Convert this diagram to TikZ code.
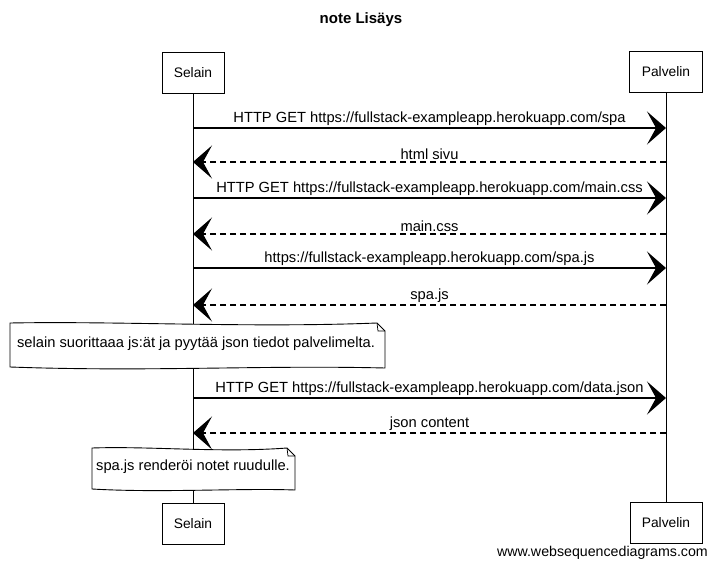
\documentclass[tikz,border=0pt]{standalone}
\usepackage{fontspec}
\setmainfont{Liberation Sans}
\usetikzlibrary{arrows.meta}
\begin{document}
\begin{tikzpicture}[x=1pt,y=-1pt,
  part/.style={draw,line width=0.9pt,minimum height=41pt,inner sep=0pt,font=\fontsize{13.8}{16}\selectfont,fill=white},
  life/.style={line width=0.8pt},
  msg/.style={line width=1.1pt,-{Stealth[length=19pt,width=33pt,inset=9pt]}},
  ret/.style={msg,dash pattern=on 6pt off 4pt},
  lbl/.style={font=\fontsize{14.7}{17}\selectfont,inner sep=2pt,above},
  notebox/.style={draw,line width=0.9pt,fill=white},
  notetext/.style={font=\fontsize{14.7}{17}\selectfont,inner sep=0pt}]
\useasboundingbox (0,0) rectangle (717,569);
\node[font=\bfseries\fontsize{15}{17}\selectfont] (title) at (361,20) {note Lisäys};
\node[part,minimum width=62pt] (s1) at (193,72.5) {Selain};
\node[part,minimum width=73pt] (p1) at (666,72) {Palvelin};
\node[part,minimum width=62pt] (s2) at (193,523.5) {Selain};
\node[part,minimum width=72pt] (p2) at (666,523) {Palvelin};
\draw[life] (s1) -- (s2);
\draw[life] (p1) -- (p2);
% lifeline coordinates
\foreach \n/\y in {1/128,2/162,3/198,4/234,5/268,6/305,7/398,8/433}{
  \coordinate (a\n) at (193,\y);
  \coordinate (b\n) at (666,\y);
}
\draw[msg] (a1) -- node[lbl] {HTTP GET https://fullstack-exampleapp.herokuapp.com/spa} (b1);
\draw[ret] (b2) -- node[lbl] {html sivu} (a2);
\draw[msg] (a3) -- node[lbl] {HTTP GET https://fullstack-exampleapp.herokuapp.com/main.css} (b3);
\draw[ret] (b4) -- node[lbl] {main.css} (a4);
\draw[msg] (a5) -- node[lbl] {https://fullstack-exampleapp.herokuapp.com/spa.js} (b5);
\draw[ret] (b6) -- node[lbl] {spa.js} (a6);
\draw[msg] (a7) -- node[lbl] {HTTP GET https://fullstack-exampleapp.herokuapp.com/data.json} (b7);
\draw[ret] (b8) -- node[lbl] {json content} (a8);
% note 1
\draw[notebox] (10,323) .. controls (120,321) and (250,328) .. (377,323) -- (385,331) -- (385,368)
  .. controls (260,365) and (150,372) .. (10,367) -- cycle;
\draw[line width=0.7pt] (377,323) -- (378,331) -- (385,331);
\node[notetext] (n1) at (196,344) {selain suorittaaa js:ät ja pyytää json tiedot palvelimelta.};
% note 2
\draw[notebox] (92,448) .. controls (150,446) and (220,453) .. (287,448) -- (295,456) -- (295,490)
  .. controls (240,488) and (160,493) .. (92,489) -- cycle;
\draw[line width=0.7pt] (287,448) -- (288,456) -- (295,456);
\node[notetext] (n2) at (193,467) {spa.js renderöi notet ruudulle.};
\node[anchor=east,font=\fontsize{14.2}{16}\selectfont,inner sep=0pt] (wm) at (708,553) {www.websequencediagrams.com};
\end{tikzpicture}
\end{document}
